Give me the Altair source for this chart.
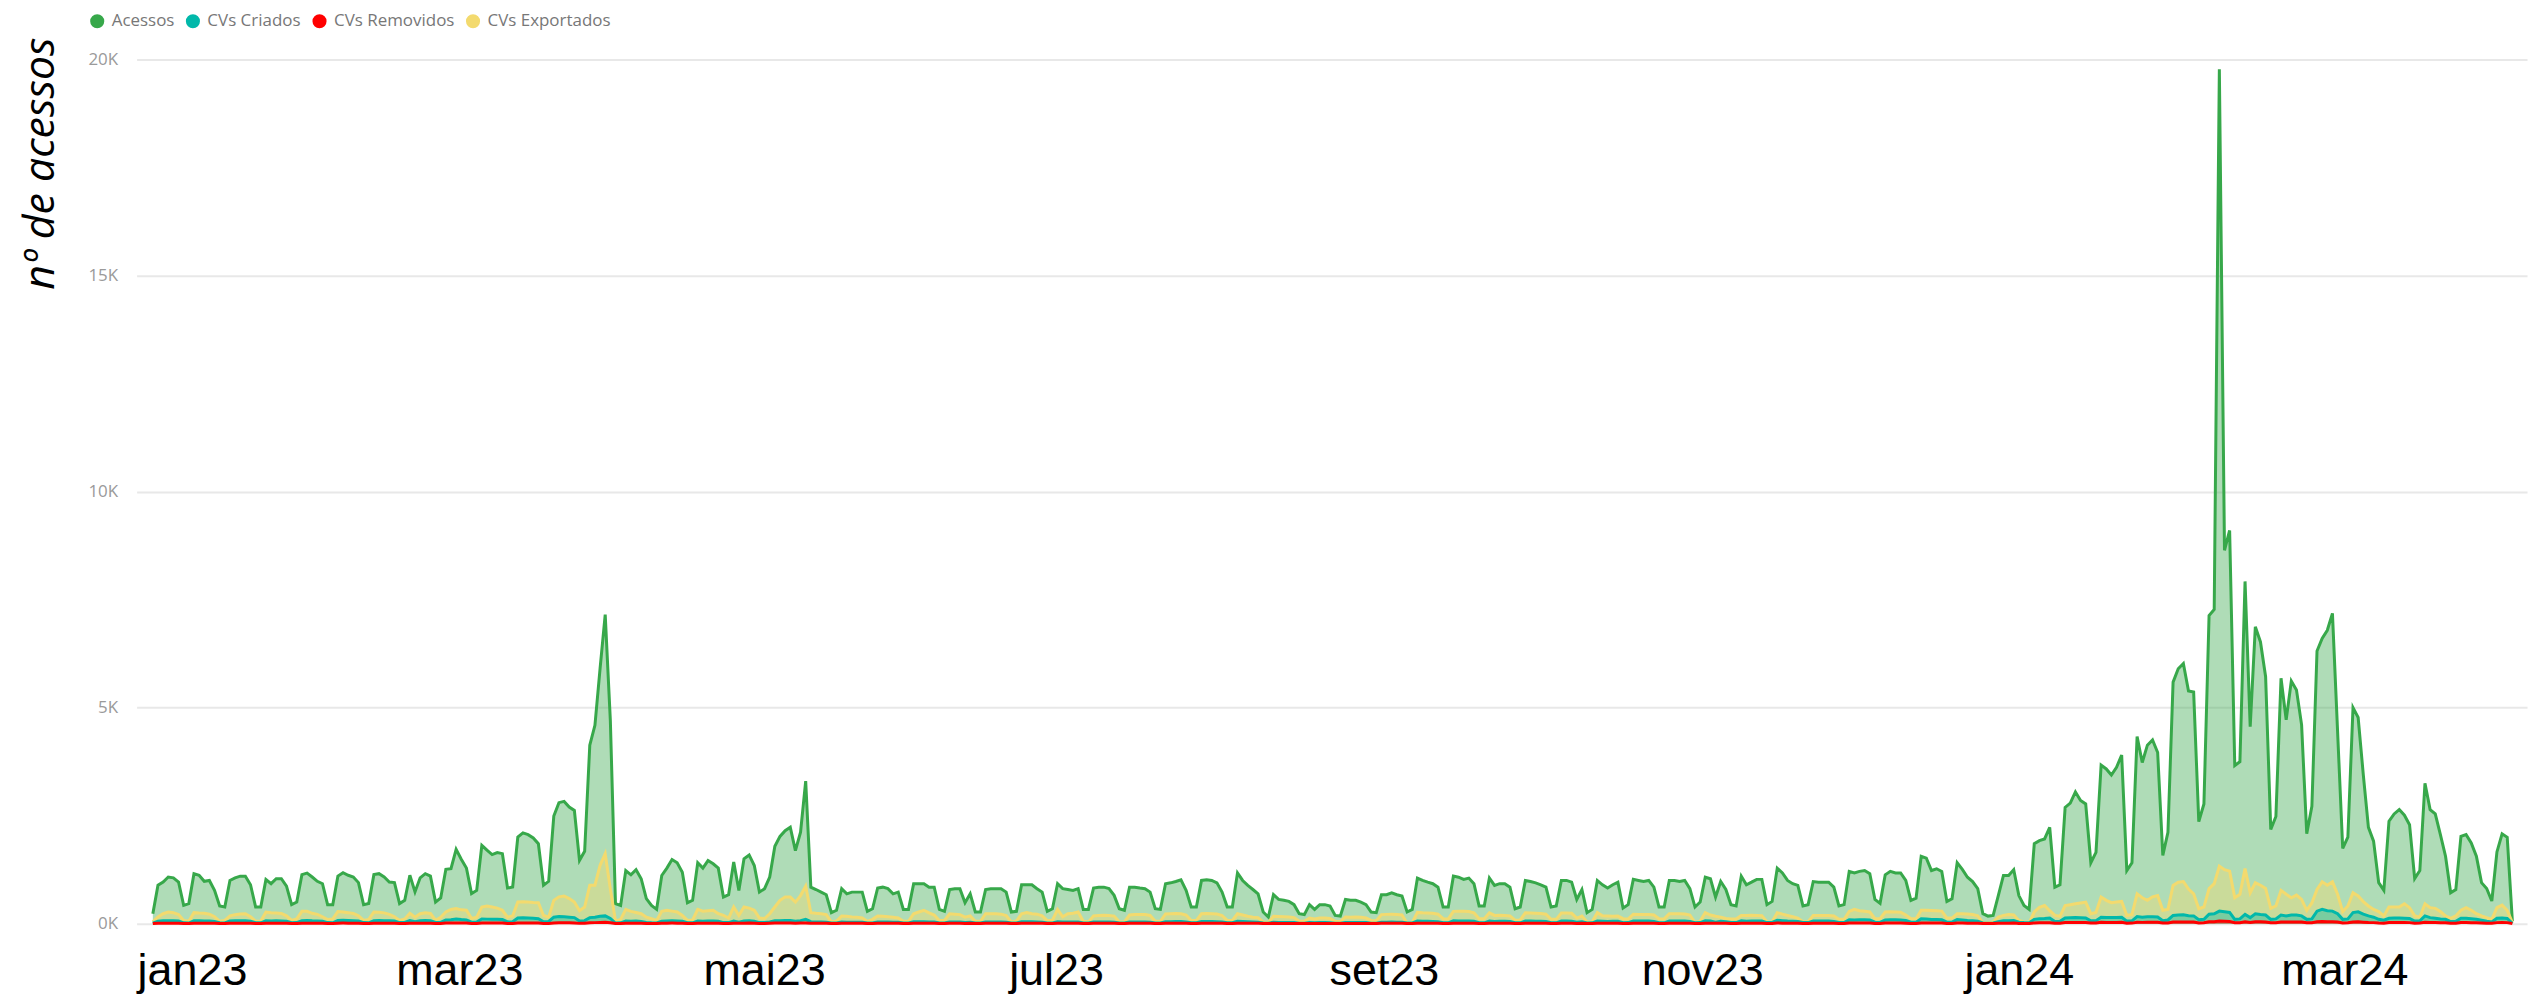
import altair as alt
import pandas as pd

# ---------------- data (daily, starting 2023-01-01) ----------------
acessos = [
    230,
    890, 965, 1080, 1060, 965, 425, 465,
    1157, 1120, 980, 1000, 770, 410, 385,
    1000, 1060, 1100, 1100, 900, 385, 385,
    1020, 925, 1040, 1040, 870, 440, 500,
    1135, 1170, 1080, 980, 925, 440, 440,
    1100, 1180, 1120, 1080, 950, 440, 465,
    1135, 1157, 1080, 965, 950, 465, 540,
    1120, 735, 1060, 1157, 1100, 500, 595,
    1258, 1273, 1720, 1490, 1290, 695, 770,
    1813, 1700, 1600, 1645, 1620, 825, 850,
    2006, 2100, 2060, 1983, 1850, 890, 980,
    2490, 2800, 2830, 2700, 2620, 1465, 1675,
    4130, 4590, 5900, 7150, 4700, 460, 420,
    1230, 1130, 1250, 1040, 580, 420, 330,
    1115, 1285, 1485, 1410, 1190, 485, 540,
    1410, 1285, 1460, 1385, 1285, 615, 670,
    1425, 770, 1500, 1590, 1345, 730, 810,
    1080, 1790, 2020, 2150, 2230, 1690, 2115,
    3300, 845, 790, 730, 670, 255, 310,
    810, 690, 730, 730, 730, 285, 345,
    825, 845, 810, 690, 730, 330, 330,
    925, 925, 925, 845, 845, 330, 285,
    790, 810, 810, 485, 690, 270, 270,
    790, 810, 810, 810, 730, 270, 285,
    900, 900, 900, 810, 730, 285, 345,
    925, 810, 790, 770, 810, 330, 330,
    825, 845, 845, 810, 655, 345, 310,
    845, 845, 825, 810, 730, 345, 330,
    925, 945, 975, 1015, 770, 385, 385,
    1000, 1015, 1000, 945, 730, 385, 385,
    1175, 1000, 885, 790, 690, 270, 155,
    670, 560, 540, 515, 440, 230, 210,
    440, 330, 440, 440, 410, 190, 175,
    560, 540, 540, 500, 440, 270, 255,
    670, 670, 715, 670, 640, 270, 330,
    1055, 1000, 960, 925, 845, 385, 385,
    1100, 1075, 1025, 1055, 925, 410, 410,
    1055, 885, 925, 925, 845, 345, 385,
    1000, 975, 945, 900, 845, 385, 410,
    1000, 1000, 960, 560, 790, 255, 330,
    1000, 900, 825, 900, 960, 360, 440,
    1025, 1000, 975, 1000, 845, 385, 385,
    1000, 1000, 975, 1000, 810, 385, 500,
    1075, 1040, 615, 975, 790, 440, 410,
    1100, 900, 960, 1025, 1025, 440, 515,
    1285, 1175, 1000, 925, 885, 410, 440,
    975, 960, 960, 960, 845, 410, 440,
    1210, 1175, 1210, 1230, 1155, 560, 470,
    1130, 1210, 1175, 1175, 1000, 540, 590,
    1560, 1515, 1230, 1270, 1210, 515, 575,
    1410, 1255, 1075, 975, 810, 230, 175,
    190, 650, 1115, 1115, 1250, 650, 420,
    330, 1850, 1920, 1960, 2230, 845, 900,
    2690, 2790, 3050, 2850, 2770, 1410, 1650,
    3670, 3580, 3440, 3620, 3900, 1230, 1410,
    4330, 3730, 4130, 4250, 3960, 1580, 2115,
    5590, 5900, 6020, 5385, 5360, 2360, 2770,
    7130, 7270, 19770, 8640, 9100, 3660, 3750,
    7920, 4560, 6870, 6520, 5715, 2180, 2480,
    5680, 4715, 5615, 5410, 4600, 2080, 2715,
    6310, 6600, 6790, 7180, 4450, 1740, 2000,
    5000, 4770, 3450, 2230, 1910, 950, 770,
    2370, 2540, 2640, 2510, 2290, 1045, 1230,
    3250, 2640, 2540, 2060, 1560, 715, 790,
    2020, 2060, 1870, 1560, 950, 815, 525,
    1660, 2080, 2000, 60,
]

cvs_criados = [
    10,
    55, 65, 70, 65, 60, 20, 15,
    70, 65, 60, 60, 50, 20, 15,
    60, 65, 70, 65, 55, 20, 20,
    65, 60, 65, 60, 55, 20, 25,
    70, 75, 65, 60, 55, 25, 20,
    75, 80, 75, 70, 60, 25, 20,
    70, 75, 70, 65, 60, 25, 30,
    70, 45, 70, 75, 70, 30, 30,
    85, 90, 110, 95, 85, 35, 40,
    110, 105, 100, 100, 95, 40, 45,
    130, 135, 130, 125, 115, 45, 50,
    150, 165, 160, 150, 140, 60, 70,
    140, 150, 170, 180, 120, 15, 20,
    60, 55, 60, 50, 30, 20, 15,
    55, 60, 65, 60, 55, 20, 20,
    60, 55, 60, 60, 55, 25, 25,
    60, 35, 60, 65, 55, 25, 30,
    40, 65, 70, 75, 75, 55, 70,
    100, 45, 40, 40, 35, 15, 15,
    40, 35, 35, 35, 35, 15, 15,
    40, 40, 40, 35, 35, 15, 15,
    45, 45, 45, 40, 40, 15, 15,
    40, 40, 40, 25, 35, 15, 15,
    40, 40, 40, 40, 35, 15, 15,
    45, 45, 45, 40, 35, 15, 15,
    45, 40, 40, 40, 40, 15, 15,
    40, 40, 40, 40, 35, 15, 15,
    40, 40, 40, 40, 35, 15, 15,
    45, 45, 50, 50, 40, 20, 20,
    50, 50, 50, 45, 40, 20, 20,
    55, 50, 45, 40, 35, 15, 10,
    35, 30, 30, 30, 25, 10, 10,
    25, 20, 25, 25, 20, 10, 10,
    30, 30, 30, 25, 25, 10, 10,
    35, 35, 40, 35, 35, 15, 15,
    60, 55, 55, 50, 45, 20, 20,
    65, 60, 60, 60, 55, 20, 20,
    60, 50, 55, 55, 50, 20, 20,
    60, 60, 55, 55, 50, 20, 20,
    60, 60, 55, 35, 45, 15, 20,
    60, 55, 50, 55, 55, 20, 25,
    60, 60, 60, 60, 50, 20, 20,
    60, 60, 60, 60, 50, 20, 25,
    65, 60, 35, 55, 45, 25, 25,
    65, 55, 60, 60, 60, 25, 30,
    80, 70, 60, 55, 50, 25, 25,
    60, 60, 60, 60, 50, 25, 25,
    90, 85, 90, 90, 85, 35, 30,
    85, 90, 90, 85, 75, 35, 35,
    115, 110, 95, 95, 90, 35, 35,
    95, 85, 75, 70, 55, 15, 10,
    15, 45, 70, 70, 75, 35, 25,
    20, 100, 115, 120, 130, 50, 55,
    130, 135, 140, 135, 130, 65, 70,
    150, 145, 140, 145, 150, 60, 65,
    165, 150, 160, 160, 155, 70, 85,
    190, 200, 205, 185, 180, 90, 100,
    220, 230, 290, 275, 260, 100, 110,
    215, 140, 230, 210, 200, 100, 110,
    200, 180, 200, 200, 180, 100, 110,
    290, 330, 300, 290, 230, 100, 110,
    255, 275, 220, 180, 150, 100, 80,
    125, 130, 130, 125, 120, 60, 65,
    180, 140, 125, 110, 100, 50, 55,
    125, 125, 115, 100, 80, 55, 40,
    125, 130, 120, 10,
]

cvs_removidos = [
    3,
    10, 12, 12, 11, 10, 3, 3,
    11, 12, 10, 11, 9, 3, 2,
    10, 11, 12, 12, 10, 3, 3,
    11, 10, 11, 11, 9, 3, 3,
    12, 12, 11, 10, 10, 3, 3,
    12, 13, 12, 11, 10, 3, 3,
    12, 12, 11, 10, 10, 3, 4,
    12, 8, 11, 12, 12, 4, 4,
    13, 13, 15, 14, 13, 5, 5,
    15, 15, 14, 14, 14, 5, 5,
    16, 17, 16, 16, 15, 5, 6,
    18, 20, 20, 19, 18, 7, 8,
    22, 24, 28, 30, 20, 3, 3,
    12, 11, 12, 10, 6, 3, 3,
    11, 12, 13, 12, 11, 3, 3,
    12, 11, 12, 12, 11, 4, 4,
    12, 8, 12, 13, 11, 4, 4,
    9, 14, 15, 16, 16, 12, 14,
    18, 9, 8, 8, 7, 3, 3,
    8, 7, 7, 7, 7, 3, 3,
    8, 8, 8, 7, 7, 3, 3,
    9, 9, 9, 8, 8, 3, 3,
    8, 8, 8, 5, 7, 3, 3,
    8, 8, 8, 8, 7, 3, 3,
    9, 9, 9, 8, 7, 3, 3,
    9, 8, 8, 8, 8, 3, 3,
    8, 8, 8, 8, 7, 3, 3,
    8, 8, 8, 8, 7, 3, 3,
    9, 9, 10, 10, 8, 4, 4,
    10, 10, 10, 9, 8, 4, 4,
    11, 10, 9, 8, 7, 3, 2,
    7, 6, 6, 6, 5, 2, 2,
    5, 4, 5, 5, 4, 2, 2,
    6, 6, 6, 5, 5, 2, 2,
    7, 7, 8, 7, 7, 3, 3,
    11, 10, 10, 10, 9, 4, 4,
    12, 11, 11, 11, 10, 4, 4,
    11, 9, 10, 10, 9, 4, 4,
    11, 11, 10, 10, 9, 4, 4,
    11, 11, 10, 6, 9, 3, 4,
    11, 10, 9, 10, 10, 4, 5,
    11, 11, 11, 11, 9, 4, 4,
    11, 11, 11, 11, 9, 4, 5,
    12, 11, 7, 10, 9, 5, 5,
    12, 10, 11, 11, 11, 5, 6,
    14, 12, 11, 10, 9, 5, 5,
    11, 11, 11, 11, 9, 5, 5,
    14, 13, 14, 14, 13, 6, 5,
    13, 14, 14, 13, 12, 6, 6,
    17, 16, 14, 14, 13, 6, 6,
    15, 14, 12, 11, 9, 3, 2,
    3, 8, 12, 12, 13, 6, 5,
    4, 18, 20, 21, 23, 9, 10,
    26, 27, 28, 27, 26, 13, 14,
    30, 29, 28, 29, 30, 12, 13,
    33, 30, 32, 32, 31, 14, 17,
    38, 40, 41, 37, 36, 18, 20,
    44, 46, 60, 55, 52, 20, 22,
    43, 28, 46, 42, 40, 20, 22,
    40, 36, 40, 40, 36, 20, 22,
    45, 48, 46, 45, 38, 18, 20,
    40, 42, 35, 28, 24, 14, 12,
    25, 26, 26, 25, 24, 12, 13,
    30, 26, 25, 22, 20, 10, 11,
    25, 25, 23, 20, 16, 11, 8,
    24, 26, 24, 2,
]

cvs_exportados = [
    40,
    155, 230, 270, 255, 210, 75, 55,
    255, 245, 240, 220, 160, 55, 75,
    180, 205, 225, 230, 160, 55, 60,
    270, 255, 245, 235, 180, 75, 110,
    285, 285, 240, 215, 160, 95, 110,
    280, 270, 255, 235, 180, 75, 100,
    270, 265, 250, 215, 160, 75, 110,
    240, 150, 230, 250, 235, 80, 150,
    270, 330, 350, 320, 310, 120, 150,
    385, 410, 385, 360, 310, 150, 180,
    500, 505, 500, 490, 485, 190, 150,
    540, 620, 640, 580, 500, 300, 385,
    890, 890, 1350, 1620, 800, 60, 100,
    330, 285, 260, 230, 150, 115, 75,
    285, 310, 290, 270, 190, 75, 85,
    330, 290, 300, 310, 230, 190, 130,
    385, 190, 385, 360, 310, 130, 120,
    230, 385, 540, 615, 615, 500, 650,
    870, 255, 240, 230, 210, 40, 60,
    175, 170, 155, 150, 130, 55, 100,
    175, 170, 160, 150, 130, 55, 55,
    230, 270, 310, 250, 200, 75, 75,
    230, 220, 210, 150, 180, 55, 55,
    230, 230, 230, 220, 190, 40, 60,
    230, 255, 230, 220, 180, 70, 80,
    330, 160, 230, 240, 270, 55, 40,
    180, 190, 195, 190, 175, 45, 40,
    200, 210, 215, 210, 190, 55, 55,
    225, 230, 235, 230, 200, 75, 75,
    230, 235, 230, 225, 190, 75, 75,
    230, 200, 170, 150, 140, 40, 30,
    170, 165, 160, 155, 140, 60, 55,
    130, 110, 130, 130, 120, 55, 50,
    155, 150, 155, 150, 130, 75, 70,
    210, 215, 220, 210, 200, 10, 30,
    260, 250, 245, 240, 220, 115, 110,
    285, 290, 285, 280, 250, 115, 115,
    250, 190, 195, 190, 180, 80, 85,
    250, 245, 240, 235, 220, 100, 100,
    245, 245, 240, 130, 175, 40, 45,
    255, 180, 175, 170, 175, 115, 110,
    215, 210, 210, 210, 200, 115, 110,
    230, 230, 230, 225, 200, 25, 60,
    255, 200, 170, 150, 120, 110, 110,
    190, 190, 195, 190, 185, 40, 45,
    255, 220, 190, 160, 130, 45, 45,
    190, 190, 190, 190, 180, 100, 100,
    285, 330, 300, 285, 270, 115, 115,
    270, 275, 270, 265, 200, 115, 115,
    310, 310, 305, 300, 290, 130, 130,
    230, 230, 225, 210, 180, 25, 20,
    40, 155, 190, 210, 200, 75, 40,
    25, 270, 380, 420, 300, 190, 170,
    420, 440, 460, 480, 500, 230, 260,
    615, 540, 485, 500, 515, 190, 210,
    690, 600, 540, 620, 650, 310, 330,
    885, 960, 975, 800, 690, 345, 385,
    810, 925, 1330, 1250, 1215, 600, 680,
    1275, 715, 945, 890, 815, 355, 410,
    770, 680, 600, 660, 560, 310, 480,
    790, 970, 890, 970, 680, 280, 410,
    715, 640, 510, 410, 330, 280, 180,
    385, 385, 385, 460, 370, 180, 155,
    460, 370, 355, 280, 180, 125, 180,
    310, 370, 310, 230, 180, 140, 100,
    370, 430, 310, 25,
]

series_names = ["Acessos", "CVs Criados", "CVs Removidos", "CVs Exportados"]
series_colors = ["#37A84A", "#01B8AA", "#FF0000", "#F3DA6E"]

x_labels = ["jan23", "mar23", "mai23", "jul23", "set23", "nov23", "jan24", "mar24"]
x_label_dates = [
    "2023-01-08T17:00:00Z", "2023-03-01T17:00:00Z", "2023-04-30T00:00:00Z",
    "2023-06-25T19:00:00Z", "2023-08-28T14:00:00Z", "2023-10-29T12:00:00Z",
    "2023-12-30T02:00:00Z", "2024-03-02T10:00:00Z",
]
y_ticks = [0, 5000, 10000, 15000, 20000]

# ---------------- tables ----------------
dates = pd.date_range("2023-01-01", periods=len(acessos), freq="D").strftime("%Y-%m-%dT00:00:00Z")
values_by_series = {
    "Acessos": acessos,
    "CVs Criados": cvs_criados,
    "CVs Removidos": cvs_removidos,
    "CVs Exportados": cvs_exportados,
}
rows = []
for name, vals in values_by_series.items():
    for d, v in zip(dates, vals):
        rows.append({"date": d, "serie": name, "valor": v})
df = pd.DataFrame(rows)
labels_df = pd.DataFrame({"date": x_label_dates, "label": x_labels})

# ---------------- scales ----------------
DAY = 86400000
t0 = int(pd.Timestamp("2023-01-01", tz="UTC").value // 10**6)
x_domain = [t0 - int(3.16 * DAY), t0 + int(461.85 * DAY)]
x_scale = alt.Scale(domain=x_domain)
y_scale = alt.Scale(domain=[0, 20000], nice=False)
color_scale = alt.Scale(domain=series_names, range=series_colors)

legend = alt.Legend(
    title=None, orient="none", legendX=-48, legendY=-47, direction="horizontal",
    symbolType="circle", symbolSize=200, symbolOpacity=1, symbolStrokeWidth=0,
    labelFont="Open Sans", labelFontSize=17, labelColor="#777777",
    labelOffset=6, columnPadding=10, padding=0,
)

y_axis = alt.Axis(
    values=y_ticks, labelExpr="datum.value / 1000 + 'K'",
    labelFont="Open Sans", labelFontSize=17, labelColor="#9a9a9a", labelPadding=19,
    domain=False, ticks=False, grid=True, gridColor="#e8e8e8", gridWidth=2,
    title="nº de acessos", titleFont="Open Sans", titleFontStyle="italic",
    titleFontWeight="normal", titleFontSize=43, titleColor="#000000",
    titleAngle=270, titleX=-83, titleY=104, titleAlign="center",
    titleBaseline="alphabetic",
)

base = alt.Chart(df).encode(
    x=alt.X("date:T", scale=x_scale, axis=None),
    y=alt.Y("valor:Q", scale=y_scale, axis=y_axis, stack=None),
    color=alt.Color("serie:N", scale=color_scale, legend=legend, sort=series_names),
)

draw_order = ["Acessos", "CVs Exportados", "CVs Criados", "CVs Removidos"]
layers = [
    base.transform_filter(alt.datum.serie == s).mark_area(
        fillOpacity=0.4, line={"strokeWidth": 3}
    )
    for s in draw_order
]

text_layer = alt.Chart(labels_df).mark_text(
    font="Liberation Sans", fontSize=45, color="#000000",
    align="center", baseline="alphabetic",
).encode(
    x=alt.X("date:T", scale=x_scale, axis=None),
    y=alt.value(929),
    text="label:N",
)

chart = alt.layer(*layers, text_layer).properties(
    width=2398, height=867,
    padding={"left": 129, "top": 50, "right": 4, "bottom": 73},
    autosize=alt.AutoSizeParams(type="none"),
    background="#ffffff",
).configure_view(stroke=None)

chart.save("out.html", embed_options={"renderer": "svg", "actions": False})
